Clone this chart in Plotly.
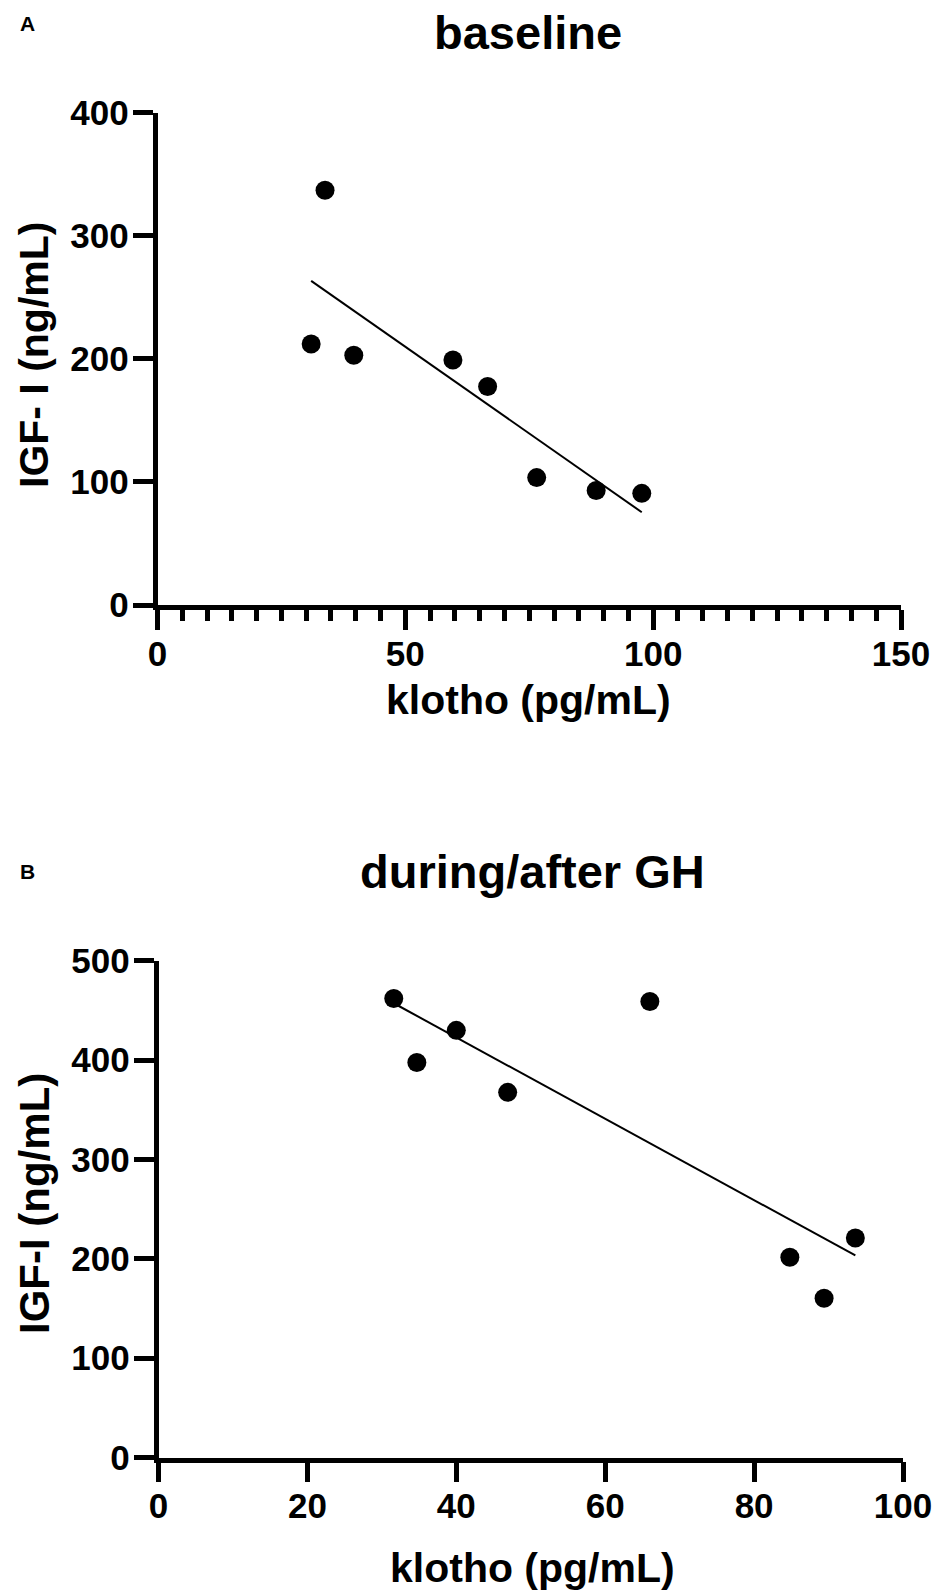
import numpy as np
import plotly.graph_objects as go

# Panel A: baseline
klotho_a = [31.0, 33.8, 39.6, 59.6, 66.6, 76.5, 88.5, 97.7]
igf_a = [212, 337, 203, 199, 177.5, 103.5, 93, 90.7]

# Panel B: during/after GH
klotho_b = [31.6, 34.7, 40.0, 46.9, 66.0, 84.8, 89.4, 93.6]
igf_b = [462, 397.7, 430, 367.6, 459, 201.6, 160.4, 221]

W, H = 938, 1593
FONT = "Liberation Sans, Arial, Helvetica, sans-serif"


def fit_line(x, y):
    m, c = np.polyfit(x, y, 1)
    xs = [min(x), max(x)]
    return xs, [m * v + c for v in xs]


fig = go.Figure()

fa_x, fa_y = fit_line(klotho_a, igf_a)
fb_x, fb_y = fit_line(klotho_b, igf_b)

fig.add_trace(go.Scatter(x=fa_x, y=fa_y, mode="lines", line=dict(color="black", width=2),
                         xaxis="x", yaxis="y", showlegend=False, hoverinfo="skip"))
fig.add_trace(go.Scatter(x=klotho_a, y=igf_a, mode="markers",
                         marker=dict(color="black", size=19), xaxis="x", yaxis="y", showlegend=False))
fig.add_trace(go.Scatter(x=fb_x, y=fb_y, mode="lines", line=dict(color="black", width=2),
                         xaxis="x2", yaxis="y2", showlegend=False, hoverinfo="skip"))
fig.add_trace(go.Scatter(x=klotho_b, y=igf_b, mode="markers",
                         marker=dict(color="black", size=19), xaxis="x2", yaxis="y2", showlegend=False))

tickfont = dict(family=FONT, size=35, color="black", weight="bold")
axis_common = dict(showgrid=False, zeroline=False, showline=True, linecolor="black", linewidth=4.5,
                   ticks="outside", ticklen=20, tickwidth=4.5, tickcolor="black", tickfont=tickfont,
                   automargin=False)


def px_x(p):
    return p / W


def px_y(p):
    return 1 - p / H


fig.update_layout(
    width=W, height=H,
    margin=dict(l=0, r=0, t=0, b=0, autoexpand=False),
    paper_bgcolor="white", plot_bgcolor="white",
    xaxis=dict(domain=[px_x(157.5), px_x(901)], range=[0, 150], tickvals=[0, 50, 100, 150],
               anchor="y", ticklabelstandoff=-6,
               minor=dict(tickvals=[v for v in range(5, 150, 5) if v % 50 != 0], ticks="outside",
                          ticklen=11, tickwidth=4.5, tickcolor="black"),
               **axis_common),
    yaxis=dict(domain=[px_y(605), px_y(112.7)], range=[0, 400], tickvals=[0, 100, 200, 300, 400],
               anchor="x", ticklabelstandoff=-3, **axis_common),
    xaxis2=dict(domain=[px_x(158.5), px_x(903)], range=[0, 100], tickvals=[0, 20, 40, 60, 80, 100],
                anchor="y2", ticklabelstandoff=-6, **axis_common),
    yaxis2=dict(domain=[px_y(1457.6), px_y(960.8)], range=[0, 500], tickvals=[0, 100, 200, 300, 400, 500],
                anchor="x2", ticklabelstandoff=-3, **axis_common),
)

ann = []


def add_text(text, x, y, size, angle=0):
    ann.append(dict(text="<b>%s</b>" % text, x=px_x(x), y=px_y(y), xref="paper", yref="paper",
                    xanchor="center", yanchor="middle", showarrow=False, textangle=angle,
                    font=dict(family=FONT, size=size, color="black")))


add_text("A", 27, 23, 21)
add_text("baseline", 528, 33, 47)
add_text("klotho (pg/mL)", 528, 700, 41)
add_text("IGF- I (ng/mL)", 34, 355, 41, -90)

add_text("B", 27, 871, 21)
add_text("during/after GH", 532, 871, 47)
add_text("klotho (pg/mL)", 532, 1568, 41)
add_text("IGF-I (ng/mL)", 34, 1204, 42, -90)

fig.update_layout(annotations=ann)

fig.write_html("out.html")
